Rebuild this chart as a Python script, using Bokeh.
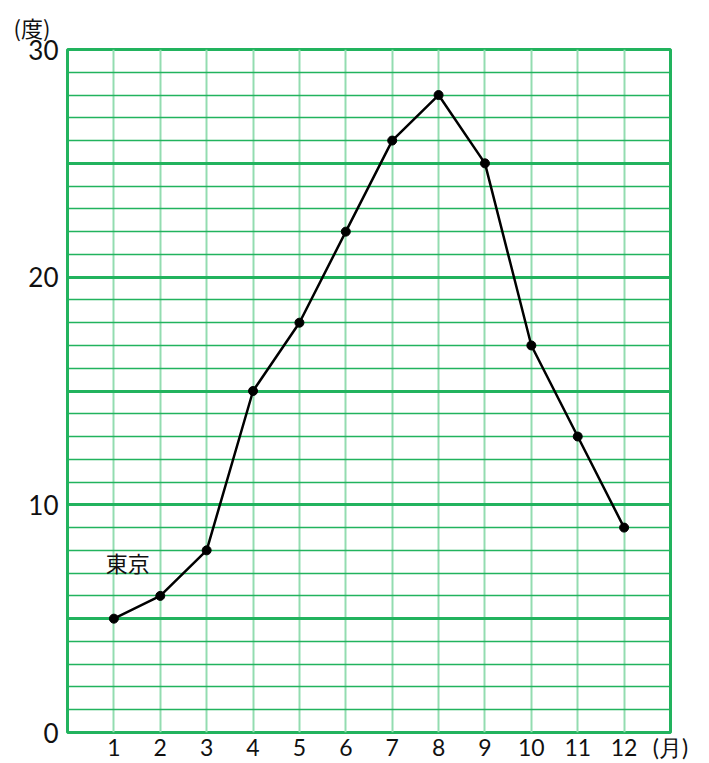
from bokeh.plotting import figure
from bokeh.models import Range1d, FixedTicker, Label, ColumnDataSource, Title
from bokeh.embed import file_html
from bokeh.resources import INLINE

months = [1, 2, 3, 4, 5, 6, 7, 8, 9, 10, 11, 12]
month_labels = ["1", "2", "3", "4", "5", "6", "7", "8", "9", "10", "11", "12"]
temps = [5, 6, 8, 15, 18, 22, 26, 28, 25, 17, 13, 9]
y_ticks = [0, 10, 20, 30]
y_major_grid = [0, 5, 10, 15, 20, 25, 30]
y_minor_grid = list(range(0, 31))
series_name = "東京"
y_unit = "(度)"
x_unit = "(月)"

FONT = "Noto Sans CJK JP"
NUM_FONT = "Lato"
GREEN = "#22b35e"
LIGHT_GREEN = "#93dcb0"
TEXT = "#111111"

p = figure(width=709, height=763, output_backend="svg", toolbar_location=None,
           x_range=Range1d(0, 13), y_range=Range1d(0, 30),
           min_border_left=67, min_border_right=39, min_border_top=49,
           min_border_bottom=28)

# x axis: month numbers plus the unit at the right edge
x_tick_pos = months + [months[-1] + 1]
overrides = {m: t for m, t in zip(months, month_labels)}
overrides[months[-1] + 1] = x_unit
p.xaxis.ticker = FixedTicker(ticks=x_tick_pos)
p.xaxis.major_label_overrides = overrides
p.xaxis.axis_line_color = None
p.xaxis.major_tick_line_color = None
p.xaxis.minor_tick_line_color = None
p.xaxis.major_tick_out = 0
p.xaxis.major_tick_in = 0
p.xaxis.major_label_standoff = 0
p.xaxis.major_label_text_font = NUM_FONT
p.xaxis.major_label_text_font_size = "23px"
p.xaxis.major_label_text_color = TEXT

p.yaxis.ticker = FixedTicker(ticks=y_ticks)
p.yaxis.axis_line_color = None
p.yaxis.major_tick_line_color = None
p.yaxis.minor_tick_line_color = None
p.yaxis.major_tick_out = 0
p.yaxis.major_tick_in = 0
p.yaxis.major_label_standoff = 9
p.yaxis.major_label_text_font = NUM_FONT
p.yaxis.major_label_text_font_size = "26px"
p.yaxis.major_label_text_color = TEXT

p.xgrid.ticker = FixedTicker(ticks=months)
p.xgrid.grid_line_color = LIGHT_GREEN
p.xgrid.grid_line_width = 2

p.ygrid.ticker = FixedTicker(ticks=y_major_grid, minor_ticks=y_minor_grid)
p.ygrid.grid_line_color = GREEN
p.ygrid.grid_line_width = 3
p.ygrid.minor_grid_line_color = GREEN
p.ygrid.minor_grid_line_width = 1.5

p.outline_line_color = GREEN
p.outline_line_width = 3
p.background_fill_color = "white"
p.border_fill_color = "white"

src = ColumnDataSource(dict(x=months, y=temps))
p.line("x", "y", source=src, line_color="black", line_width=2.5)
p.scatter("x", "y", source=src, size=9, fill_color="black", line_color="black")

p.add_layout(Title(text=y_unit, align="left", offset=-54, text_font=FONT,
                   text_font_size="22px", text_font_style="normal",
                   text_color=TEXT, standoff=14), "above")

p.add_layout(Label(x=1.3, y=7.5, text=series_name, text_align="center",
                   text_baseline="middle", text_font=FONT,
                   text_font_size="22px", text_color=TEXT))

open("out.html", "w").write(file_html(p, INLINE))
